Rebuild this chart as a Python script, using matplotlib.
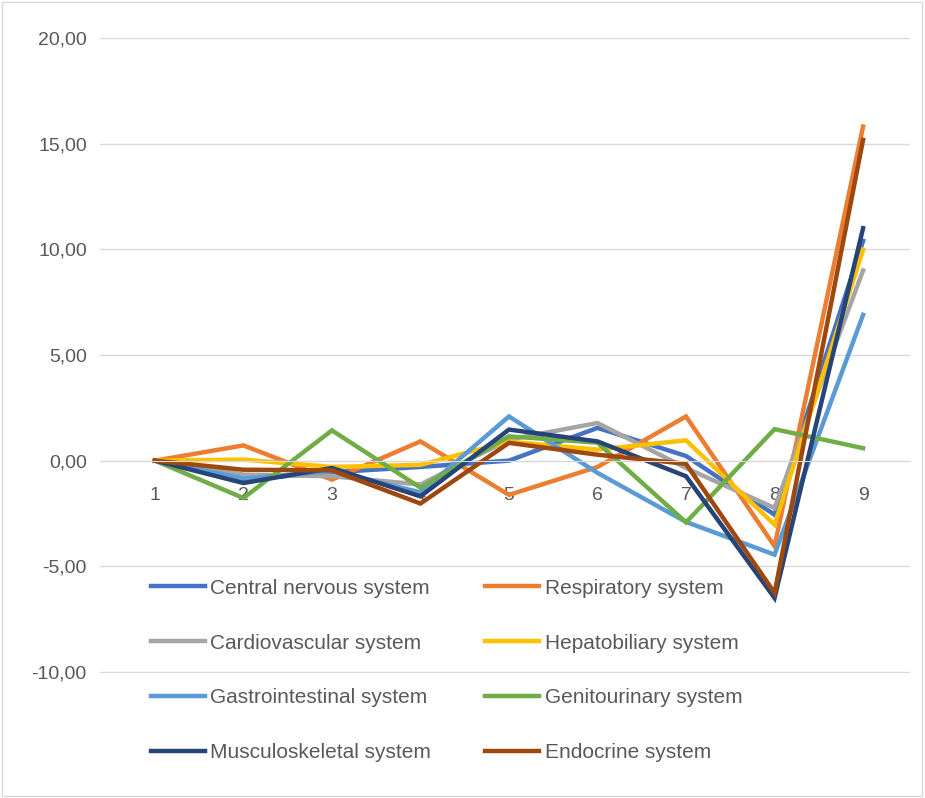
import matplotlib.pyplot as plt
from matplotlib.patches import Rectangle
from matplotlib.ticker import FuncFormatter

plt.rcParams['font.family'] = ['Liberation Sans', 'DejaVu Sans']

# Data
categories = [1, 2, 3, 4, 5, 6, 7, 8, 9]
central_nervous = [0, -0.9, -0.55, -0.3, 0.0, 1.55, 0.22, -2.56, 10.4]
respiratory = [0, 0.72, -0.9, 0.91, -1.62, -0.3, 2.09, -4.05, 15.81]
cardiovascular = [0, -0.66, -0.74, -1.13, 1.0, 1.78, -0.35, -2.24, 9.0]
hepatobiliary = [0, 0.05, -0.3, -0.2, 0.9, 0.52, 0.96, -3.03, 9.98]
gastrointestinal = [0, -0.85, -0.5, -1.5, 2.09, -0.58, -2.9, -4.45, 6.9]
genitourinary = [0, -1.77, 1.43, -1.28, 1.15, 0.85, -2.92, 1.49, 0.59]
musculoskeletal = [0, -1.06, -0.35, -1.69, 1.47, 0.91, -0.74, -6.5, 11.0]
endocrine = [0, -0.43, -0.46, -2.03, 0.84, 0.28, -0.15, -6.26, 15.18]

series = [
    ('Central nervous system', central_nervous, '#4472C4'),
    ('Respiratory system', respiratory, '#ED7D31'),
    ('Cardiovascular system', cardiovascular, '#A5A5A5'),
    ('Hepatobiliary system', hepatobiliary, '#FFC000'),
    ('Gastrointestinal system', gastrointestinal, '#5B9BD5'),
    ('Genitourinary system', genitourinary, '#70AD47'),
    ('Musculoskeletal system', musculoskeletal, '#264478'),
    ('Endocrine system', endocrine, '#9E480E'),
]

fig = plt.figure(figsize=(9.25, 7.98), dpi=100)
ax = fig.add_axes([100 / 925, 1 - 673 / 798, 810 / 925, (673 - 38) / 798])

lines = []
for name, vals, col in series:
    ln, = ax.plot(categories, vals, color=col, lw=3.2, label=name, solid_joinstyle='miter')
    lines.append(ln)

ax.set_ylim(-10.05, 20)
ax.set_xlim(0.38, 9.53)
ax.set_yticks([-10, -5, 0, 5, 10, 15, 20])
ax.yaxis.set_major_formatter(FuncFormatter(lambda v, p: f'{v:.2f}'.replace('.', ',')))
ax.set_xticks(categories)
ax.grid(axis='y', color='#d9d9d9', lw=1)
ax.set_axisbelow(True)

for s in ['top', 'right', 'left']:
    ax.spines[s].set_visible(False)
ax.spines['bottom'].set_position(('data', 0))
ax.spines['bottom'].set_color('#d9d9d9')
ax.tick_params(axis='y', length=0, pad=9.5, labelsize=14, labelcolor='#595959')
ax.tick_params(axis='x', length=0, pad=19, labelsize=14, labelcolor='#595959')

# legend filled row by row: two per row
order = [0, 2, 4, 6, 1, 3, 5, 7]
fig.legend([lines[i] for i in order], [lines[i].get_label() for i in order],
           loc='upper left', bbox_to_anchor=(132 / 925, 1 - 560 / 798), ncol=2,
           frameon=False, fontsize=15, labelcolor='#595959', handlelength=2.6,
           handletextpad=0.25, labelspacing=1.72, columnspacing=2.6)

# chart border
fig.patches.append(Rectangle((0.002, 0.003), 0.995, 0.994, transform=fig.transFigure,
                             fill=False, edgecolor='#d9d9d9', lw=1))

fig.savefig('out.png', dpi=100)
